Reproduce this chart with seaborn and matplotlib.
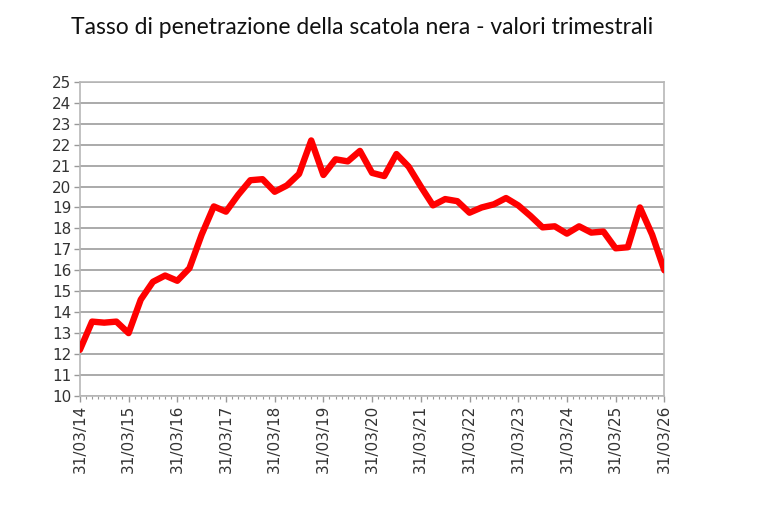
import numpy as np
import pandas as pd
import matplotlib
matplotlib.use('Agg')
from matplotlib import pyplot as plt
from matplotlib.ticker import MultipleLocator
import seaborn as sns

# quarterly penetration rate, 31/03/14 .. 31/03/26
values = [
    12.2, 13.55, 13.5, 13.55,
    13.0, 14.6, 15.45, 15.75,
    15.5, 16.1, 17.7, 19.05,
    18.8, 19.6, 20.3, 20.35,
    19.75, 20.05, 20.6, 22.2,
    20.55, 21.3, 21.2, 21.7,
    20.65, 20.5, 21.55, 20.95,
    20.0, 19.1, 19.4, 19.3,
    18.75, 19.0, 19.15, 19.45,
    19.1, 18.6, 18.05, 18.1,
    17.75, 18.1, 17.8, 17.85,
    17.05, 17.1, 19.0, 17.7,
    16.0,
]
years = list(range(14, 27))
year_labels = ['31/03/%02d' % y for y in years]
title = 'Tasso di penetrazione della scatola nera - valori trimestrali'

df = pd.DataFrame({'q': np.arange(len(values)), 'val': values})

sns.set_style('white')
plt.rcParams['font.family'] = ['DejaVu Sans']

fig = plt.figure(figsize=(7.68, 5.21), dpi=100)
ax = fig.add_axes([0.104, 0.240, 0.761, 0.603])

sns.lineplot(data=df, x='q', y='val', ax=ax, color='#ff0000', linewidth=4.6,
             solid_joinstyle='round', zorder=3)

ax.set_xlim(0, len(values) - 1)
ax.set_ylim(10, 25)
ax.set_yticks(range(10, 26))
ax.set_xticks(np.arange(0, len(values), 4))
ax.set_xticklabels(year_labels, rotation=90)
ax.xaxis.set_minor_locator(MultipleLocator(0.5))
ax.grid(axis='y', color='#a4a4a4', linewidth=1.3)
ax.set_axisbelow(True)
ax.set_xlabel('')
ax.set_ylabel('')

for s in ax.spines.values():
    s.set_color('#b8b8b8')
    s.set_linewidth(1.2)

ax.tick_params(axis='both', which='major', direction='out', length=4, width=1,
               color='#999999', labelsize=11, labelcolor='#333333', pad=2)
ax.tick_params(axis='x', which='minor', direction='out', length=2.5, width=0.8,
               color='#999999', bottom=True)
ax.tick_params(axis='y', left=True)
ax.tick_params(axis='x', bottom=True)

fig.text(0.472, 0.948, title, ha='center', va='center', fontsize=16.5,
         color='#111111', family=['Lato', 'DejaVu Sans'])

fig.savefig('out.png', dpi=100)
